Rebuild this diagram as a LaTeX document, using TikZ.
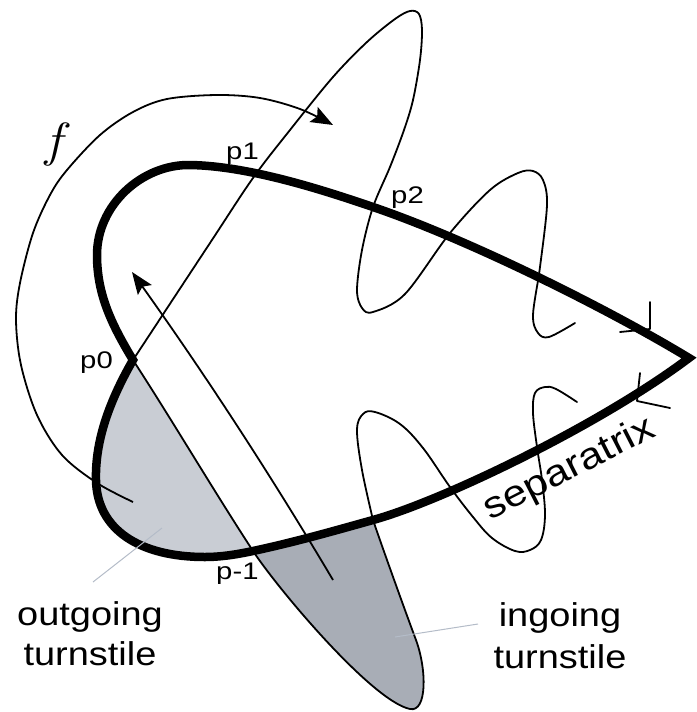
\documentclass[tikz,border=0pt]{standalone}
\usepackage{fontspec}
\setmainfont{Liberation Sans}
\usetikzlibrary{arrows.meta}
\definecolor{outfill}{RGB}{201,205,212}
\definecolor{infill}{RGB}{168,173,182}
\definecolor{pointer}{RGB}{180,188,200}
\begin{document}
\begin{tikzpicture}[x=1pt,y=-1pt,
  manif/.style={line width=1.8pt, line cap=round, line join=round},
  thicksep/.style={line width=8.5pt, line join=miter},
  plbl/.style={font=\fontsize{24}{24}\selectfont, xscale=1.22, inner sep=0pt},
  biglbl/.style={font=\fontsize{33}{33}\selectfont, xscale=1.15, inner sep=0pt},
  ptr/.style={draw=pointer, line width=1pt},
  arr/.style={-{Stealth[length=22pt,width=17pt,inset=4pt]}, line width=1.8pt}]
\useasboundingbox (0,0) rectangle (696,712);
% key points
\coordinate (H) at (689,358);
\coordinate (P2) at (373,207);
\coordinate (P0) at (133,360);
\coordinate (PM) at (253,551);
\coordinate (X) at (373,520);
\coordinate (T) at (410,709);
% turnstile fills
\fill[outfill] (P0) .. controls (110,400) and (95,440) .. (96,480)
  .. controls (97,530) and (140,557) .. (205,557)
  .. controls (222,557) and (239,554) .. (PM)
  .. controls (212,488) and (172,420) .. (P0) -- cycle;
\fill[infill] (PM) .. controls (278,589) and (372,701) .. (T)
  .. controls (427,712.6) and (427,670) .. (416,640)
  .. controls (407,616) and (385,555) .. (X)
  .. controls (330,532) and (295,542) .. (PM) -- cycle;
% thin manifold
\draw[manif] (P0) .. controls (172,420) and (212,488) .. (PM)
  .. controls (278,589) and (372,701) .. (T)
  .. controls (427,712.6) and (427,670) .. (416,640)
  .. controls (407,616) and (385,555) .. (X);
\draw[manif] plot[smooth, tension=0.6] coordinates {(373,520) (362,470) (357,430) (363,414) (375,412) (400,424) (423,448) (450,487) (473,517) (492,538) (515,551) (530,550) (541,540) (545,515) (542,480) (537,447) (533,413) (535,393) (545,387) (556,389) (577,402)};
\draw[manif] plot[smooth, tension=0.55] coordinates {(133,360) (210,243) (253,178) (290,130) (333,77) (367,42) (395,19) (410,11) (419,14) (422,30) (420,60) (413,100) (404,130) (390,167) (373,207) (362,250) (357,290) (362,308) (373,312) (405,294) (450,233) (490,190) (518,173) (533,171) (543,180) (547,205) (540,267) (533,315) (538,333) (549,337) (575,323)};
% direction ticks near hyperbolic point
\draw[manif] (650,302) -- (650,329) -- (620,332);
\draw[manif] (640,373) -- (637,401) -- (670,408);
% arrows
\coordinate (fs) at (133,502);
\coordinate (fe) at (333,125);
\draw[arr] plot[smooth, tension=0.55] coordinates {(133,502) (97,483) (62,455) (37,415) (21,365) (16,320) (20,283) (33,233) (50,195) (67,170) (100,135) (133,112) (167,99) (217,95) (260,98) (300,109) (333,125)};
\coordinate (bs) at (333,580);
\coordinate (be) at (132,272);
\draw[arr] (bs) .. controls (270.6,474.7) and (203.6,372.3) .. (be);
% separatrix
\draw[thicksep] (H) .. controls (610,310) and (470,240) .. (P2)
  .. controls (325,190.7) and (250,166) .. (190,165)
  .. controls (142,164.2) and (97,205) .. (97,255)
  .. controls (97,295) and (112,325) .. (P0)
  .. controls (110,400) and (95,440) .. (96,480)
  .. controls (97,530) and (140,557) .. (205,557)
  .. controls (222,557) and (239,554) .. (PM)
  .. controls (295,542) and (330,532) .. (X)
  .. controls (442,501) and (600,425) .. cycle;
% labels
\node[font=\fontfamily{lmr}\fontsize{48}{48}\selectfont\itshape, inner sep=0pt, xscale=1.15] (lf) at (54,144) {f};
\node[plbl, anchor=base west] (lp0) at (80,368) {p0};
\node[plbl, anchor=base west] (lp1) at (226,159) {p1};
\node[plbl, anchor=base west] (lp2) at (391,203) {p2};
\node[plbl, anchor=base west] (lpm) at (216,579) {p-1};
\node[font=\fontsize{37}{37}\selectfont, inner sep=0pt, anchor=base, rotate=27, xscale=1.15] (sep) at (574,478) {separatrix};
\node[biglbl, anchor=base] (out1) at (90,625) {outgoing};
\node[biglbl, anchor=base] (out2) at (90,665) {turnstile};
\node[biglbl, anchor=base] (in1) at (560,626) {ingoing};
\node[biglbl, anchor=base] (in2) at (560,668) {turnstile};
% pointers
\coordinate (po1) at (162,528);
\coordinate (po2) at (93,582);
\draw[ptr] (po1) -- (po2);
\coordinate (pi1) at (395,637);
\coordinate (pi2) at (478,624);
\draw[ptr] (pi1) -- (pi2);
\end{tikzpicture}
\end{document}
